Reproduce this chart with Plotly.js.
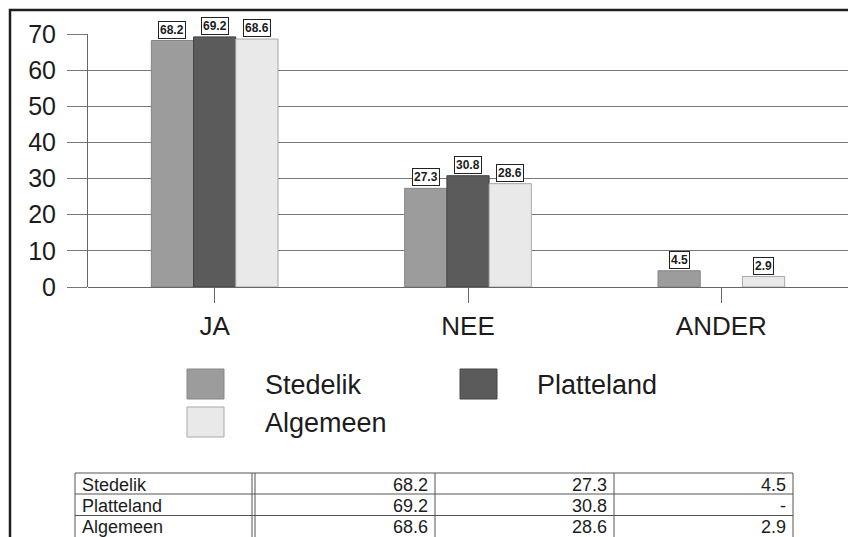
<!DOCTYPE html>
<html><head><meta charset="utf-8">
<script src="https://cdn.plot.ly/plotly-3.0.1.min.js"></script>
<style>html,body{margin:0;padding:0;background:#fff;}#chart{width:848px;height:537px;}</style>
</head><body><div id="chart"></div>
<script>
// ---- data ----
const categories = ['JA', 'NEE', 'ANDER'];
const seriesNames = ['Stedelik', 'Platteland', 'Algemeen'];
const stedelik = [68.2, 27.3, 4.5];
const platteland = [69.2, 30.8, null];
const algemeen = [68.6, 28.6, 2.9];
const yTickVals = [0, 10, 20, 30, 40, 50, 60, 70];

const seriesValues = [stedelik, platteland, algemeen];
const colors = ['#9c9c9c', '#5b5b5b', '#e9e9e9'];
const lineColors = ['#858585', '#444444', '#a9a9a9'];

// ---- geometry helpers (pixel -> paper) ----
const W = 848, H = 537, mL = 88, mR = 0, mT = 34, mB = 250;
const pw = W - mL - mR, ph = H - mT - mB;
const X = px => (px - mL) / pw;
const Y = py => (H - mB - py) / ph;
const FONT = 'Liberation Sans, Arial, sans-serif';
const TXT = '#1c1c1c';
const bargap = 0.5;
const barW = pw / categories.length * (1 - bargap) / seriesNames.length;

const traces = seriesNames.map((n, i) => ({
  type: 'bar', name: n, x: categories, y: seriesValues[i],
  marker: {color: colors[i], line: {color: lineColors[i], width: 1}},
  showlegend: false, hoverinfo: 'none', cliponaxis: false
}));

const annotations = [];
const shapes = [];

// value label boxes above bars
seriesValues.forEach((vals, i) => {
  vals.forEach((v, j) => {
    if (v === null) return;
    annotations.push({
      x: categories[j], y: v, xref: 'x', yref: 'y',
      text: '<b>' + v.toFixed(1) + '</b>', showarrow: false,
      xshift: (i - 1) * barW, yshift: 2, yanchor: 'bottom',
      font: {family: FONT, size: 12, color: TXT},
      bgcolor: '#ffffff', bordercolor: '#222', borderwidth: 1, borderpad: 1
    });
  });
});

// outer frame
shapes.push({type: 'rect', xref: 'paper', yref: 'paper',
  x0: X(10), x1: X(900), y0: Y(10), y1: Y(620),
  line: {color: '#1e1e1e', width: 2.5}, fillcolor: 'rgba(0,0,0,0)', layer: 'above'});

// custom legend
const legendItems = [
  {i: 0, sx: 187, sy: 369, tx: 263, ty: 385},
  {i: 1, sx: 460, sy: 369, tx: 535, ty: 385},
  {i: 2, sx: 187, sy: 407, tx: 263, ty: 423}
];
legendItems.forEach(it => {
  shapes.push({type: 'rect', xref: 'paper', yref: 'paper',
    x0: X(it.sx), x1: X(it.sx + 37), y0: Y(it.sy), y1: Y(it.sy + 30),
    fillcolor: colors[it.i], line: {color: lineColors[it.i], width: 1}});
  annotations.push({xref: 'paper', yref: 'paper', x: X(it.tx), y: Y(it.ty),
    xanchor: 'left', yanchor: 'middle', showarrow: false, text: seriesNames[it.i],
    font: {family: FONT, size: 27, color: TXT}});
});

// data table
const colX = [75, 252, 435, 614, 793];
const rowY = [473, 494, 515.5, 537];
const tl = {color: '#555', width: 1};
rowY.slice(0, 3).forEach(y => shapes.push({type: 'line', xref: 'paper', yref: 'paper',
  x0: X(colX[0]), x1: X(colX[4]), y0: Y(y), y1: Y(y), line: tl}));
colX.forEach(x => shapes.push({type: 'line', xref: 'paper', yref: 'paper',
  x0: X(x), x1: X(x), y0: Y(rowY[0]), y1: Y(545), line: tl}));
shapes.push({type: 'line', xref: 'paper', yref: 'paper',
  x0: X(colX[1] + 3), x1: X(colX[1] + 3), y0: Y(rowY[0]), y1: Y(545), line: tl});
seriesNames.forEach((n, r) => {
  const yc = (rowY[r] + rowY[r + 1]) / 2 + 1;
  annotations.push({xref: 'paper', yref: 'paper', x: X(colX[0] + 5), y: Y(yc),
    xanchor: 'left', yanchor: 'middle', showarrow: false, text: n,
    font: {family: FONT, size: 18, color: TXT}});
  seriesValues[r].forEach((v, c) => {
    annotations.push({xref: 'paper', yref: 'paper', x: X(colX[c + 2] - 5), y: Y(yc),
      xanchor: 'right', yanchor: 'middle', showarrow: false,
      text: v === null ? '-' : v.toFixed(1),
      font: {family: FONT, size: 18, color: TXT}});
  });
});

const layout = {
  width: W, height: H,
  margin: {l: mL, r: mR, t: mT, b: mB, pad: 0},
  paper_bgcolor: '#ffffff', plot_bgcolor: '#ffffff',
  barmode: 'group', bargap: bargap, bargroupgap: 0,
  showlegend: false,
  xaxis: {
    type: 'category', showgrid: false, showline: false, zeroline: false,
    ticks: 'outside', ticklen: 15, tickcolor: '#666', tickwidth: 1,
    ticklabelstandoff: 1,
    tickfont: {family: FONT, size: 26, color: TXT}
  },
  yaxis: {
    range: [0, 70], tickvals: yTickVals, ticktext: yTickVals.map(String),
    showgrid: true, gridcolor: '#777', gridwidth: 1,
    zeroline: true, zerolinecolor: '#666', zerolinewidth: 1,
    showline: true, linecolor: '#666', linewidth: 1,
    ticks: 'outside', ticklen: 20, tickcolor: '#777', tickwidth: 1,
    ticklabelstandoff: 6,
    tickfont: {family: FONT, size: 25, color: TXT}
  },
  shapes: shapes, annotations: annotations
};

Plotly.newPlot('chart', traces, layout, {staticPlot: true, displayModeBar: false});
</script>
</body></html>
